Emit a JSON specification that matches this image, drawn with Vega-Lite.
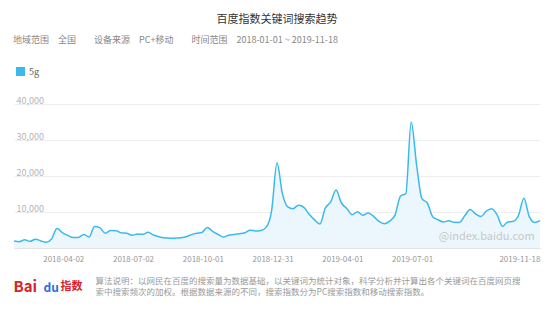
{
  "$schema": "https://vega.github.io/schema/vega-lite/v6.json",
  "width": 526,
  "height": 144,
  "autosize": {"type": "none"},
  "padding": {"left": 14, "top": 104, "right": 14, "bottom": 62},
  "background": "white",
  "title": {"text": "百度指数关键词搜索趋势", "anchor": "middle", "frame": "group", "fontSize": 11, "fontWeight": "normal", "color": "#333333", "offset": 11},
  "config": {"font": "'Noto Sans CJK SC', 'Noto Sans', sans-serif", "view": {"stroke": null}},
  "datasets": {
    "trend": [
      {"date": "2018-01-01", "value": 1950, "keyword": "5g"},
      {"date": "2018-01-08", "value": 1770, "keyword": "5g"},
      {"date": "2018-01-15", "value": 2270, "keyword": "5g"},
      {"date": "2018-01-22", "value": 1850, "keyword": "5g"},
      {"date": "2018-01-29", "value": 2450, "keyword": "5g"},
      {"date": "2018-02-05", "value": 1970, "keyword": "5g"},
      {"date": "2018-02-12", "value": 1600, "keyword": "5g"},
      {"date": "2018-02-19", "value": 2500, "keyword": "5g"},
      {"date": "2018-02-26", "value": 5400, "keyword": "5g"},
      {"date": "2018-03-05", "value": 4300, "keyword": "5g"},
      {"date": "2018-03-12", "value": 3500, "keyword": "5g"},
      {"date": "2018-03-19", "value": 2900, "keyword": "5g"},
      {"date": "2018-03-26", "value": 2950, "keyword": "5g"},
      {"date": "2018-04-02", "value": 3750, "keyword": "5g"},
      {"date": "2018-04-09", "value": 3060, "keyword": "5g"},
      {"date": "2018-04-16", "value": 6000, "keyword": "5g"},
      {"date": "2018-04-23", "value": 5650, "keyword": "5g"},
      {"date": "2018-04-30", "value": 4100, "keyword": "5g"},
      {"date": "2018-05-07", "value": 4830, "keyword": "5g"},
      {"date": "2018-05-14", "value": 4800, "keyword": "5g"},
      {"date": "2018-05-21", "value": 4200, "keyword": "5g"},
      {"date": "2018-05-28", "value": 4070, "keyword": "5g"},
      {"date": "2018-06-04", "value": 3550, "keyword": "5g"},
      {"date": "2018-06-11", "value": 3880, "keyword": "5g"},
      {"date": "2018-06-18", "value": 3800, "keyword": "5g"},
      {"date": "2018-06-25", "value": 4350, "keyword": "5g"},
      {"date": "2018-07-02", "value": 3600, "keyword": "5g"},
      {"date": "2018-07-09", "value": 3150, "keyword": "5g"},
      {"date": "2018-07-16", "value": 2820, "keyword": "5g"},
      {"date": "2018-07-23", "value": 2690, "keyword": "5g"},
      {"date": "2018-07-30", "value": 2740, "keyword": "5g"},
      {"date": "2018-08-06", "value": 2850, "keyword": "5g"},
      {"date": "2018-08-13", "value": 3100, "keyword": "5g"},
      {"date": "2018-08-20", "value": 3690, "keyword": "5g"},
      {"date": "2018-08-27", "value": 4100, "keyword": "5g"},
      {"date": "2018-09-03", "value": 4300, "keyword": "5g"},
      {"date": "2018-09-10", "value": 5700, "keyword": "5g"},
      {"date": "2018-09-17", "value": 4650, "keyword": "5g"},
      {"date": "2018-09-24", "value": 3800, "keyword": "5g"},
      {"date": "2018-10-01", "value": 3030, "keyword": "5g"},
      {"date": "2018-10-08", "value": 3550, "keyword": "5g"},
      {"date": "2018-10-15", "value": 3730, "keyword": "5g"},
      {"date": "2018-10-22", "value": 3950, "keyword": "5g"},
      {"date": "2018-10-29", "value": 4250, "keyword": "5g"},
      {"date": "2018-11-05", "value": 4950, "keyword": "5g"},
      {"date": "2018-11-12", "value": 4730, "keyword": "5g"},
      {"date": "2018-11-19", "value": 4890, "keyword": "5g"},
      {"date": "2018-11-26", "value": 5800, "keyword": "5g"},
      {"date": "2018-12-03", "value": 10400, "keyword": "5g"},
      {"date": "2018-12-10", "value": 23700, "keyword": "5g"},
      {"date": "2018-12-17", "value": 15100, "keyword": "5g"},
      {"date": "2018-12-24", "value": 11450, "keyword": "5g"},
      {"date": "2018-12-31", "value": 10930, "keyword": "5g"},
      {"date": "2019-01-07", "value": 11900, "keyword": "5g"},
      {"date": "2019-01-14", "value": 11300, "keyword": "5g"},
      {"date": "2019-01-21", "value": 9350, "keyword": "5g"},
      {"date": "2019-01-28", "value": 7800, "keyword": "5g"},
      {"date": "2019-02-04", "value": 6700, "keyword": "5g"},
      {"date": "2019-02-11", "value": 11100, "keyword": "5g"},
      {"date": "2019-02-18", "value": 12800, "keyword": "5g"},
      {"date": "2019-02-25", "value": 16100, "keyword": "5g"},
      {"date": "2019-03-04", "value": 12500, "keyword": "5g"},
      {"date": "2019-03-11", "value": 11000, "keyword": "5g"},
      {"date": "2019-03-18", "value": 9250, "keyword": "5g"},
      {"date": "2019-03-25", "value": 10050, "keyword": "5g"},
      {"date": "2019-04-01", "value": 9100, "keyword": "5g"},
      {"date": "2019-04-08", "value": 9700, "keyword": "5g"},
      {"date": "2019-04-15", "value": 8800, "keyword": "5g"},
      {"date": "2019-04-22", "value": 7400, "keyword": "5g"},
      {"date": "2019-04-29", "value": 6750, "keyword": "5g"},
      {"date": "2019-05-06", "value": 7450, "keyword": "5g"},
      {"date": "2019-05-13", "value": 9200, "keyword": "5g"},
      {"date": "2019-05-20", "value": 14400, "keyword": "5g"},
      {"date": "2019-05-27", "value": 15150, "keyword": "5g"},
      {"date": "2019-06-03", "value": 35000, "keyword": "5g"},
      {"date": "2019-06-10", "value": 23200, "keyword": "5g"},
      {"date": "2019-06-17", "value": 13700, "keyword": "5g"},
      {"date": "2019-06-24", "value": 12500, "keyword": "5g"},
      {"date": "2019-07-01", "value": 8700, "keyword": "5g"},
      {"date": "2019-07-08", "value": 7850, "keyword": "5g"},
      {"date": "2019-07-15", "value": 7230, "keyword": "5g"},
      {"date": "2019-07-22", "value": 7550, "keyword": "5g"},
      {"date": "2019-07-29", "value": 7120, "keyword": "5g"},
      {"date": "2019-08-05", "value": 7100, "keyword": "5g"},
      {"date": "2019-08-12", "value": 9000, "keyword": "5g"},
      {"date": "2019-08-19", "value": 10700, "keyword": "5g"},
      {"date": "2019-08-26", "value": 9450, "keyword": "5g"},
      {"date": "2019-09-02", "value": 8750, "keyword": "5g"},
      {"date": "2019-09-09", "value": 10250, "keyword": "5g"},
      {"date": "2019-09-16", "value": 10930, "keyword": "5g"},
      {"date": "2019-09-23", "value": 9250, "keyword": "5g"},
      {"date": "2019-09-30", "value": 6000, "keyword": "5g"},
      {"date": "2019-10-07", "value": 7250, "keyword": "5g"},
      {"date": "2019-10-14", "value": 7400, "keyword": "5g"},
      {"date": "2019-10-21", "value": 9100, "keyword": "5g"},
      {"date": "2019-10-28", "value": 13800, "keyword": "5g"},
      {"date": "2019-11-04", "value": 8700, "keyword": "5g"},
      {"date": "2019-11-11", "value": 7100, "keyword": "5g"},
      {"date": "2019-11-18", "value": 7600, "keyword": "5g"}
    ],
    "watermark": [
      {"date": "2019-11-11", "value": 3050, "label": "@index.baidu.com"}
    ]
  },
  "layer": [
    {
      "data": {"name": "trend"},
      "mark": {"type": "area", "interpolate": "monotone", "color": "#ebf7fd"},
      "encoding": {
        "x": {
          "field": "date", "type": "temporal",
          "scale": {"type": "utc", "nice": false, "domain": [{"year": 2018, "month": 1, "date": 1, "utc": true}, {"year": 2019, "month": 11, "date": 18, "utc": true}]},
          "axis": {
            "orient": "bottom",
            "values": [
              {"year": 2018, "month": 4, "date": 2, "utc": true},
              {"year": 2018, "month": 7, "date": 2, "utc": true},
              {"year": 2018, "month": 10, "date": 1, "utc": true},
              {"year": 2018, "month": 12, "date": 31, "utc": true},
              {"year": 2019, "month": 4, "date": 1, "utc": true},
              {"year": 2019, "month": 7, "date": 1, "utc": true},
              {"year": 2019, "month": 11, "date": 18, "utc": true}
            ],
            "labelExpr": "utcFormat(datum.value, '%Y-%m-%d')",
            "labelAlign": "right", "labelBaseline": "middle", "labelPadding": 11,
            "ticks": false, "tickSize": 0, "grid": false,
            "labelFontSize": 8, "labelColor": "#999999",
            "labelOverlap": false, "labelFlush": false, "labelBound": false,
            "domainColor": "#e3e3e3",
            "title": ["算法说明：以网民在百度的搜索量为数据基础，以关键词为统计对象，科学分析并计算出各个关键词在百度网页搜", "索中搜索频次的加权。根据数据来源的不同，搜索指数分为PC搜索指数和移动搜索指数。"],
            "titleX": 81, "titleY": 28, "titleAlign": "left", "titleAnchor": "start", "titleBaseline": "top",
            "titleFontSize": 8.5, "titleFontWeight": "normal", "titleColor": "#999999", "titleLineHeight": 11, "titleLimit": 600
          }
        },
        "y": {
          "field": "value", "type": "quantitative",
          "scale": {"domain": [0, 40000], "nice": false},
          "axis": {
            "orient": "left",
            "values": [0, 10000, 20000, 30000, 40000],
            "format": ",d",
            "labelExpr": "datum.value === 0 ? '' : datum.label",
            "labelAlign": "left", "labelBaseline": "alphabetic", "labelPadding": -2, "labelOffset": -1,
            "ticks": false, "tickSize": 0, "domain": false,
            "grid": true, "gridColor": "#eeeeee",
            "labelFontSize": 9, "labelColor": "#b5b5b5",
            "title": "Bai", "titleAngle": 0, "titleX": -1, "titleY": 182, "titleAlign": "left", "titleBaseline": "middle",
            "titleFontSize": 15, "titleFontWeight": "bold", "titleColor": "#d8232a"
          }
        }
      }
    },
    {
      "data": {"name": "trend"},
      "mark": {"type": "line", "interpolate": "monotone", "strokeWidth": 1.5},
      "encoding": {
        "x": {
          "field": "date", "type": "temporal",
          "axis": {
            "orient": "top", "labels": false, "ticks": false, "domain": false, "grid": false,
            "title": "指数", "titleX": 46, "titleY": 182, "titleAlign": "left", "titleAnchor": "start", "titleBaseline": "middle",
            "titleFontSize": 11, "titleFontWeight": "bold", "titleColor": "#d8232a"
          }
        },
        "y": {
          "field": "value", "type": "quantitative",
          "axis": {
            "orient": "right", "labels": false, "ticks": false, "domain": false, "grid": false,
            "title": "du", "titleAngle": 0, "titleX": -497, "titleY": 183, "titleAlign": "left", "titleBaseline": "middle",
            "titleFontSize": 12, "titleFontWeight": "bold", "titleColor": "#2b6fe0"
          }
        },
        "color": {
          "field": "keyword", "type": "nominal",
          "scale": {"range": ["#3cb9eb"]},
          "legend": {
            "orient": "none", "legendX": -1, "legendY": -68, "padding": 0,
            "title": "地域范围　全国　　设备来源　PC+移动　　时间范围　2018-01-01 ~ 2019-11-18",
            "titleFontSize": 9, "titleFontWeight": "normal", "titleColor": "#888888", "titleLimit": 600, "titlePadding": 22,
            "symbolType": "square", "symbolSize": 81, "symbolOffset": 3,
            "labelFontSize": 9, "labelColor": "#666666", "labelOffset": 4,
            "encode": {"symbols": {"update": {"fill": {"value": "#3cb9eb"}, "stroke": {"value": "#3cb9eb"}, "strokeWidth": {"value": 0}, "opacity": {"value": 1}}}}
          }
        }
      }
    },
    {
      "data": {"name": "watermark"},
      "mark": {"type": "text", "align": "right", "baseline": "middle", "fontSize": 11, "color": "#c8c8c8"},
      "encoding": {
        "x": {"field": "date", "type": "temporal", "axis": null},
        "y": {"field": "value", "type": "quantitative", "axis": null},
        "text": {"field": "label"}
      }
    }
  ],
  "resolve": {"axis": {"x": "independent", "y": "independent"}}
}
